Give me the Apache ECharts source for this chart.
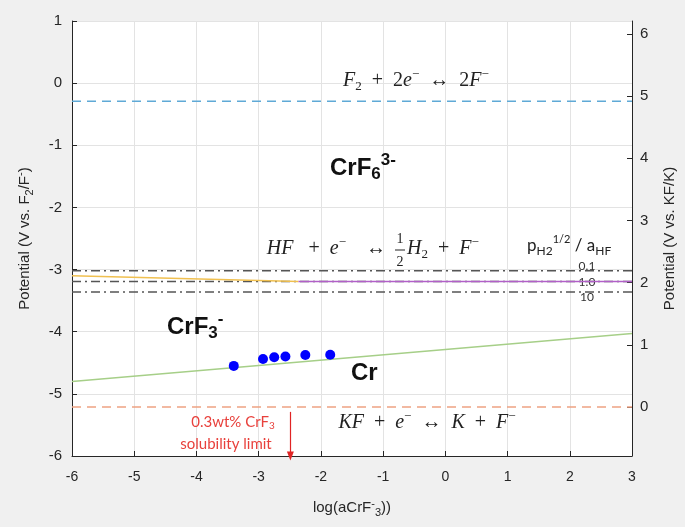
<!DOCTYPE html>
<html>
<head>
<meta charset="utf-8">
<script src="https://cdn.jsdelivr.net/npm/echarts@6/dist/echarts.min.js"></script>
<style>
  html, body { margin: 0; padding: 0; background: #f0f0f0; }
  #chart { width: 685px; height: 527px; }
</style>
</head>
<body>
<div id="chart"></div>
<script>
// potentials (V vs. F2/F-)
var f2Level = [-0.29]
var kfLevel = [-5.21]
var hfLevels = [-3.02, -3.19, -3.36]
var hfRatioLabels = ['0.1', '1.0', '10']
// Cr / CrF3- boundary
var crLineX = [-6, 3]
var crLineY = [-4.80, -4.03]
// HF boundary, yellow part then purple part
var hfYellowX = [-6, -2.36]
var hfYellowY = [-3.10, -3.19]
var hfPurpleX = [-2.36, 3]
var hfPurpleY = [-3.19, -3.19]
// measured points
var expX = [-3.40, -2.93, -2.75, -2.57, -2.25, -1.85]
var expY = [-4.55, -4.44, -4.41, -4.40, -4.375, -4.37]
// solubility arrow
var solX = [-2.49, -2.49]
var solY = [-5.29, -6]
// right axis (V vs. KF/K)
var kfOffset = 5.21
var rightTicks = [0, 1, 2, 3, 4, 5, 6]

var axisColor = '#262626'
var sansFont = 'Liberation Sans, Arial, sans-serif'
var mathFont = 'Liberation Serif, Times New Roman, serif'
var calFont = 'Lato, Open Sans, sans-serif'

function pts(xs, ys) {
  return xs.map(function (x, i) { return [x, ys[i]] })
}

var subSup = {
  s: { fontSize: 11, padding: [9, 0, 0, 0], fontFamily: sansFont, color: axisColor },
  p: { fontSize: 11, padding: [0, 0, 9, 0], fontFamily: sansFont, color: axisColor }
}

var mathRich = {
  i: { fontFamily: mathFont, fontStyle: 'italic', fontSize: 20, fill: '#222' },
  n: { fontFamily: mathFont, fontSize: 20, fill: '#222' },
  s: { fontFamily: mathFont, fontSize: 13, padding: [11, 0, 0, 0], fill: '#222' },
  p: { fontFamily: mathFont, fontSize: 13, padding: [0, 0, 13, 0], fill: '#222' }
}

var boldRich = {
  b: { fontFamily: sansFont, fontWeight: 'bold', fontSize: 24, fill: '#111' },
  s: { fontFamily: sansFont, fontWeight: 'bold', fontSize: 17, padding: [13, 0, 0, 0], fill: '#111' },
  p: { fontFamily: sansFont, fontWeight: 'bold', fontSize: 17, padding: [0, 0, 15, 0], fill: '#111' }
}

var levelSeries = function (name, y, color, dash) {
  return {
    name: name,
    type: 'line',
    data: pts(crLineX, [y, y]),
    showSymbol: false,
    silent: true,
    lineStyle: { color: color, width: 1.5, type: dash }
  }
}

var series = [
  levelSeries('F2', f2Level[0], '#5fa9d6', [9, 6]),
  levelSeries('KF', kfLevel[0], '#eea282', [9, 6])
]
hfLevels.forEach(function (y, i) {
  series.push(levelSeries('HF' + hfRatioLabels[i], y, '#555', [9, 4, 2, 4]))
})
series.push({
  name: 'HF low', type: 'line', data: pts(hfYellowX, hfYellowY),
  showSymbol: false, lineStyle: { color: '#f0c050', width: 1.5 }
})
series.push({
  name: 'HF high', type: 'line', data: pts(hfPurpleX, hfPurpleY),
  showSymbol: false, lineStyle: { color: '#b160c8', width: 1.5 }
})
series.push({
  name: 'Cr', type: 'line', data: pts(crLineX, crLineY),
  showSymbol: false, lineStyle: { color: '#a6cf88', width: 1.5 }
})
series.push({
  name: 'exp', type: 'scatter', data: pts(expX, expY),
  symbolSize: 10, itemStyle: { color: '#0000ff', opacity: 1 }, z: 5
})
series.push({
  name: 'solubility', type: 'line', data: [],
  markLine: {
    silent: true,
    symbol: ['none', 'triangle'],
    symbolSize: [7, 9],
    label: { show: false },
    lineStyle: { color: '#e02424', width: 1.2, type: 'solid' },
    data: [[{ coord: [solX[0], solY[0]] }, { coord: [solX[1], solY[1]] }]]
  }
})

var red = '#e8413c'
var graphics = [
  {
    type: 'text', x: 416, y: 81,
    style: { text: '{i|F}{s|2}{n|  +  2}{i|e}{p|−}{n|  ↔  2}{i|F}{p|−}', rich: mathRich, align: 'center', verticalAlign: 'middle' }
  },
  {
    type: 'text', x: 330, y: 168,
    style: { text: '{b|CrF}{s|6}{p|3-}', rich: boldRich, align: 'left', verticalAlign: 'middle' }
  },
  {
    type: 'text', x: 391, y: 249,
    style: { text: '{i|HF}{n|   +  }{i|e}{p|−}{n|    ↔ }', rich: mathRich, align: 'right', verticalAlign: 'middle' }
  },
  {
    type: 'text', x: 400, y: 239,
    style: { text: '1', font: '14px ' + mathFont, fill: '#222', align: 'center', verticalAlign: 'middle' }
  },
  {
    type: 'text', x: 400, y: 262,
    style: { text: '2', font: '14px ' + mathFont, fill: '#222', align: 'center', verticalAlign: 'middle' }
  },
  {
    type: 'line', shape: { x1: 395, y1: 250, x2: 405, y2: 250 },
    style: { stroke: '#222', lineWidth: 1 }
  },
  {
    type: 'text', x: 407, y: 249,
    style: { text: '{i|H}{s|2}{n|  +  }{i|F}{p|−}', rich: mathRich, align: 'left', verticalAlign: 'middle' }
  },
  {
    type: 'text', x: 527, y: 246,
    style: {
      text: '{n|p}{s|H2}{p|1/2}{n| / a}{s|HF}',
      rich: {
        n: { fontFamily: calFont, fontSize: 17, fill: '#222' },
        s: { fontFamily: calFont, fontSize: 12, padding: [10, 0, 0, 0], fill: '#222' },
        p: { fontFamily: calFont, fontSize: 11, padding: [0, 0, 13, 0], fill: '#222' }
      },
      align: 'left', verticalAlign: 'middle'
    }
  },
  {
    type: 'text', x: 167, y: 327,
    style: { text: '{b|CrF}{s|3}{p|-}', rich: boldRich, align: 'left', verticalAlign: 'middle' }
  },
  {
    type: 'text', x: 351, y: 373,
    style: { text: 'Cr', font: 'bold 24px ' + sansFont, fill: '#111', align: 'left', verticalAlign: 'middle' }
  },
  {
    type: 'text', x: 233, y: 422,
    style: {
      text: '{n|0.3wt% CrF}{s|3}',
      rich: {
        n: { fontFamily: calFont, fontSize: 15, fill: red },
        s: { fontFamily: calFont, fontSize: 10, padding: [8, 0, 0, 0], fill: red }
      },
      align: 'center', verticalAlign: 'middle'
    }
  },
  {
    type: 'text', x: 226, y: 444,
    style: { text: 'solubility limit', font: '15px ' + calFont, fill: red, align: 'center', verticalAlign: 'middle' }
  },
  {
    type: 'text', x: 427, y: 423,
    style: { text: '{i|KF}{n|  +  }{i|e}{p|−}{n|  ↔  }{i|K}{n|  +  }{i|F}{p|−}', rich: mathRich, align: 'center', verticalAlign: 'middle' }
  }
]
graphics.forEach(function (g) { g.z = 100 })
// the ratio labels sit under the dash-dot lines
var ratioY = [266, 282, 297]
hfRatioLabels.forEach(function (t, i) {
  graphics.push({
    type: 'text', x: 587, y: ratioY[i], z: 1,
    style: { text: t, font: '12px ' + calFont, fill: '#333', align: 'center', verticalAlign: 'middle' }
  })
})

var option = {
  backgroundColor: '#f0f0f0',
  animation: false,
  grid: {
    left: 72, right: 49, top: 21, bottom: 71,
    show: true, backgroundColor: '#fff', borderWidth: 0
  },
  xAxis: {
    type: 'value', min: -6, max: 3, interval: 1,
    name: 'log(aCrF{p|-}{s|3}))',
    nameLocation: 'middle', nameGap: 42,
    nameTextStyle: { fontFamily: sansFont, fontSize: 15, color: axisColor, rich: subSup },
    axisLine: { onZero: false, lineStyle: { color: axisColor } },
    axisTick: { inside: true, length: 5, lineStyle: { color: axisColor } },
    axisLabel: { fontFamily: sansFont, fontSize: 14, color: axisColor, margin: 14 },
    splitLine: { show: true, lineStyle: { color: '#e3e3e3' } }
  },
  yAxis: [
    {
      type: 'value', min: -6, max: 1, interval: 1, position: 'left',
      name: 'Potential (V vs. F{s|2}/F{p|-})',
      nameLocation: 'middle', nameGap: 37,
      nameTextStyle: { fontFamily: sansFont, fontSize: 15, color: axisColor, rich: subSup },
      axisLine: { show: true, onZero: false, lineStyle: { color: axisColor } },
      axisTick: { show: true, inside: true, length: 5, lineStyle: { color: axisColor } },
      axisLabel: { fontFamily: sansFont, fontSize: 15, color: axisColor, margin: 10 },
      splitLine: { show: true, lineStyle: { color: '#e3e3e3' } }
    },
    {
      type: 'value', min: -6 + kfOffset, max: 1 + kfOffset, position: 'right',
      name: 'Potential (V vs. KF/K)',
      nameLocation: 'middle', nameGap: 30,
      nameTextStyle: { fontFamily: sansFont, fontSize: 15, color: axisColor },
      axisLine: { show: true, onZero: false, lineStyle: { color: axisColor } },
      axisTick: { show: true, inside: true, length: 5, customValues: rightTicks, lineStyle: { color: axisColor } },
      axisLabel: { fontFamily: sansFont, fontSize: 15, color: axisColor, margin: 8, customValues: rightTicks },
      splitLine: { show: false }
    }
  ],
  series: series,
  graphic: graphics
}

var chart = echarts.init(document.getElementById('chart'))
chart.setOption(option)
window.addEventListener('resize', function () {
  chart.resize()
})
</script>
</body>
</html>
